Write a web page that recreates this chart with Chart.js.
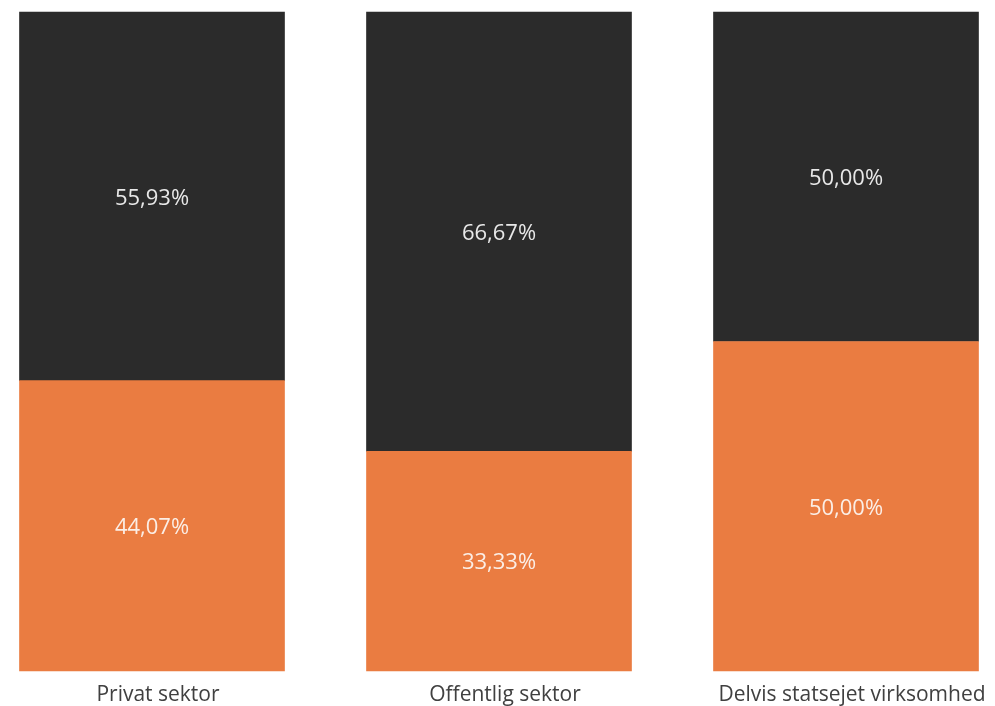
<!DOCTYPE html>
<html>
<head>
<meta charset="utf-8">
<script src="https://cdn.jsdelivr.net/npm/chart.js@4"></script>
<style>
  html, body { margin: 0; padding: 0; background: #ffffff; }
  #wrap { position: relative; width: 995px; height: 706px; }
</style>
</head>
<body>
<div id="wrap"><canvas id="c"></canvas></div>
<script>
const categories = ["Privat sektor", "Offentlig sektor", "Delvis statsejet virksomhed"];
const orangeValues = [44.07, 33.33, 50.00];
const darkValues = [55.93, 66.67, 50.00];
const seriesNames = ["Andel A", "Andel B"];

const fmt = v => v.toFixed(2).replace('.', ',') + '%';

const valueLabels = {
  id: 'valueLabels',
  afterDatasetsDraw(chart) {
    const ctx = chart.ctx;
    ctx.save();
    ctx.font = '22px "Open Sans", sans-serif';
    ctx.textAlign = 'center';
    ctx.textBaseline = 'middle';
    chart.data.datasets.forEach((ds, di) => {
      const meta = chart.getDatasetMeta(di);
      meta.data.forEach((bar, i) => {
        const p = bar.getProps(['x', 'y', 'base'], true);
        const cy = (p.y + p.base) / 2 + 2;
        ctx.fillStyle = di === 0 ? '#fbeee6' : '#e8e8e8';
        ctx.fillText(fmt(ds.data[i]), p.x, cy);
      });
    });
    ctx.restore();
  }
};

new Chart(document.getElementById('c'), {
  type: 'bar',
  data: {
    labels: categories,
    datasets: [
      { label: seriesNames[0], data: orangeValues, backgroundColor: '#ea7c41', borderWidth: 0, barThickness: 265, clip: false },
      { label: seriesNames[1], data: darkValues, backgroundColor: '#2b2b2b', borderWidth: 0, barThickness: 265, clip: false }
    ]
  },
  options: {
    responsive: true,
    maintainAspectRatio: false,
    animation: false,
    layout: { padding: { top: 12, left: 152, right: 149, bottom: 0 } },
    plugins: { legend: { display: false }, tooltip: { enabled: false } },
    scales: {
      x: {
        stacked: true,
        offset: false,
        grid: { display: false, drawTicks: false },
        border: { display: false },
        afterFit(scale) { scale.height = 35; },
        ticks: { padding: 11, labelOffset: 6, color: '#404040', font: { family: '"Open Sans", sans-serif', size: 21 }, maxRotation: 0, autoSkip: false }
      },
      y: {
        stacked: true,
        display: false,
        min: 0,
        max: 100
      }
    }
  },
  plugins: [valueLabels]
});
</script>
</body>
</html>
